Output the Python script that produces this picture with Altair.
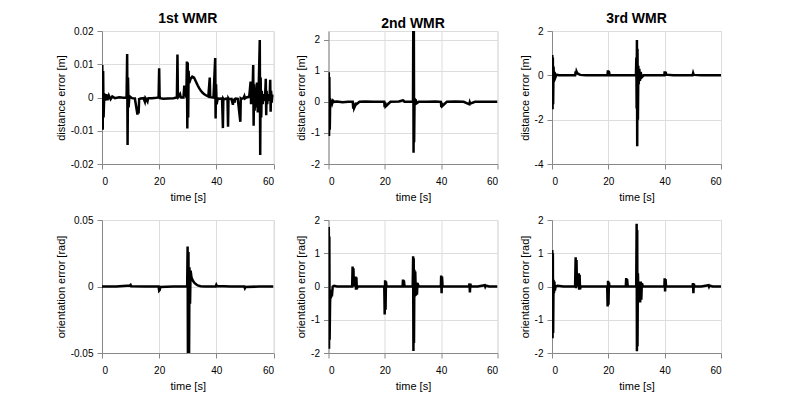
import altair as alt
import pandas as pd

# ---------------- data ----------------
# 1st WMR, distance error [m]
p1_t = [0.0, 0.1, 0.25, 0.4, 0.55, 0.8, 1.1, 1.5, 1.9, 2.4, 3.0, 3.6, 4.5, 6.0, 7.5, 8.6,
        8.8, 8.95, 9.1, 9.3, 9.6, 10.5, 11.5,
        12.4, 12.6, 12.8, 13.0, 13.5, 14.5,
        15.0, 15.2, 15.5, 15.9, 16.1, 16.4, 17.5, 19.0, 19.8,
        20.0, 20.15, 20.3, 21.5, 23.0, 25.0, 26.2,
        26.4, 26.55, 26.7, 27.3, 27.5, 27.7, 28.5,
        28.8, 28.95, 29.1, 29.5,
        29.7, 29.85, 30.0, 30.15, 30.3, 30.5, 31.0, 31.6, 32.2, 33.0, 33.5, 34.0, 34.6, 35.2, 35.8, 36.5, 37.2,
        37.7, 37.85, 38.0, 39.0,
        39.6, 39.75, 39.9, 40.1, 40.5, 41.2, 42.0,
        42.3, 42.45, 42.6, 43.5, 43.9,
        44.1, 44.25, 44.4, 45.3, 45.8, 45.95, 46.4, 46.55, 46.7, 47.5,
        48.4, 48.55, 48.7, 49.5, 49.8, 50.0, 50.5, 51.5,
        52.0, 52.15, 52.35, 52.6, 52.9, 53.05, 53.2, 53.4, 53.6, 53.9, 54.2, 54.5, 54.8,
        55.2, 55.35, 55.5, 55.7, 55.9, 56.2, 56.6, 57.0,
        57.3, 57.45, 57.6, 57.8, 58.2, 58.6,
        58.85, 59.0, 59.15, 59.4, 59.7, 60.0]
p1_e = [0.0, 0.0098, -0.0097, 0.008, -0.006, 0.0012, -0.0009, 0.0010, -0.0008, 0.0006, -0.0005, 0.0003, -0.0002, 0.0001, -0.0001, 0.0,
        0.0131, -0.0143, 0.006, -0.003, 0.0004, -0.0002, -0.0003,
        -0.0051, -0.004, -0.0048, -0.0005, -0.0003, -0.0002,
        -0.0013, -0.0002, -0.0006, -0.0012, -0.0003, -0.0002, -0.0002, -0.0001, 0.0,
        0.0088, 0.0005, -0.0002, -0.0004, -0.0003, -0.0002, 0.0,
        0.0129, 0.001, 0.0002, 0.0010, 0.0002, 0.0, 0.0,
        0.0036, 0.0015, 0.0030, 0.0,
        0.0108, -0.0093, 0.0105, -0.006, 0.008, 0.0043, 0.0056, 0.0063, 0.006, 0.0045, 0.0036, 0.0028, 0.002, 0.0014, 0.001, 0.0006, 0.0003,
        0.006, 0.0003, 0.0001, 0.0,
        0.0119, -0.0063, 0.004, -0.002, -0.0003, -0.0004, -0.0003,
        -0.0092, -0.0004, -0.0006, -0.0003, -0.0004,
        -0.0088, -0.0003, -0.0005, -0.0004, -0.0022, -0.0004, -0.0015, -0.0004, -0.0003, -0.0004,
        -0.0073, -0.0003, -0.0004, -0.0002, 0.0004, -0.0003, 0.0, 0.0002,
        0.0048, -0.002, 0.004, -0.001, 0.0098, -0.0085, 0.004, -0.004, 0.003, -0.003, 0.0045, -0.0045, 0.002,
        0.0173, -0.0173, 0.006, -0.006, 0.002, -0.002, 0.001, -0.001,
        0.0056, -0.0053, 0.002, -0.002, 0.001, -0.001,
        0.0053, -0.0043, 0.002, -0.0015, 0.0008, 0.0]

# 2nd WMR, distance error [m]
p2_t = [0.0, 0.1, 0.2, 0.3, 0.45, 0.6, 0.8, 1.0, 1.3, 1.6, 2.0, 3.0, 5.0, 7.0, 8.6,
        8.8, 8.95, 9.1, 9.6, 9.75, 9.9, 11.0, 13.0, 16.0, 19.8,
        19.95, 20.1, 20.25, 22.0, 25.0, 26.4, 26.6, 27.0, 29.0, 30.0,
        30.1, 30.2, 30.3, 30.4, 30.55, 30.7, 30.9, 31.2, 32.0, 35.0, 38.0, 39.9,
        40.05, 40.2, 40.35, 42.0, 45.0, 48.0, 50.0, 50.15, 50.3, 52.0, 55.0, 60.0]
p2_e = [0.0, 0.95, -1.1, 0.8, -0.9, 0.1, -0.08, 0.06, -0.05, 0.04, 0.0, 0.01, -0.01, 0.0, 0.0,
        -0.22, -0.05, -0.2, -0.1, -0.03, -0.08, 0.0, 0.01, 0.0, 0.0,
        -0.17, -0.02, -0.15, 0.0, 0.01, 0.05, 0.04, 0.0, 0.0, 0.0,
        2.6, -1.64, 2.4, -1.3, 0.12, -0.1, 0.08, -0.05, 0.0, 0.0, 0.01, 0.0,
        -0.17, -0.03, -0.14, 0.0, 0.01, 0.0, -0.08, -0.02, -0.06, 0.0, 0.0, 0.0]

# 3rd WMR, distance error [m]
p3_t = [0.0, 0.1, 0.2, 0.3, 0.4, 0.55, 0.7, 0.9, 1.2, 1.6, 2.5, 5.0, 8.2,
        8.4, 8.55, 8.7, 9.0, 9.3, 10.0, 12.0, 15.0, 19.7,
        19.85, 20.0, 20.15, 20.5, 23.0, 26.0, 29.8,
        29.95, 30.05, 30.15, 30.25, 30.35, 30.5, 30.65, 30.8, 31.0, 31.2, 31.5, 31.8, 32.5, 35.0, 38.0, 39.9,
        40.0, 40.15, 40.3, 40.6, 43.0, 46.0, 49.9, 50.1, 50.25, 50.5, 53.0, 56.0, 60.0]
p3_e = [0.0, 0.92, -1.53, 0.8, -1.3, 0.4, -0.3, 0.15, -0.1, 0.03, 0.0, 0.0, 0.0,
        0.18, 0.05, 0.17, 0.08, 0.07, 0.02, 0.0, 0.0, 0.0,
        0.22, 0.08, 0.2, 0.0, 0.0, 0.0, 0.0,
        0.8, -1.5, 1.59, -3.2, 1.2, -2.0, 0.43, -0.4, 0.3, -0.25, 0.15, -0.1, 0.0, 0.0, 0.0, 0.0,
        0.18, 0.06, 0.16, 0.03, 0.0, 0.0, 0.0, 0.1, 0.04, 0.02, 0.0, 0.0, 0.0]

# 1st WMR, orientation error [rad]
p4_t = [0.0, 5.0, 9.8, 10.0, 10.2, 15.0, 19.8, 20.0, 20.2, 20.4, 25.0,
        29.8, 29.95, 30.1, 30.25, 30.4, 30.6, 30.8, 31.0, 31.3, 31.7, 32.2, 32.8, 33.5, 34.5, 36.0,
        39.8, 40.0, 40.2, 45.0, 49.8, 50.0, 50.2, 55.0, 60.0]
p4_e = [0.0, 0.0, 0.0008, 0.0012, 0.0002, 0.0, 0.0, -0.003, -0.0025, -0.0003, 0.0,
        0.0, 0.030, -0.08, 0.026, -0.08, 0.0145, -0.013, 0.012, 0.007, 0.0048, 0.003, 0.0018, 0.0008, 0.0002, 0.0,
        0.0, 0.0012, 0.0003, 0.0, 0.0, -0.0012, -0.0004, 0.0, 0.0]

# 2nd WMR, orientation error [rad]
p5_t = [0.0, 0.1, 0.2, 0.3, 0.4, 0.55, 0.7, 0.85, 1.0, 1.2, 1.5, 2.0, 3.0, 5.0, 8.4,
        8.55, 8.7, 8.85, 9.0, 9.6, 9.75, 9.9, 10.05, 10.3, 11.0, 14.0, 17.0, 19.8,
        19.95, 20.1, 20.25, 20.4, 20.6, 23.0, 26.3,
        26.45, 26.6, 26.75, 27.0, 29.9,
        30.05, 30.15, 30.25, 30.35, 30.5, 30.65, 30.8, 31.0, 31.2, 31.4, 31.6, 32.0, 34.0, 37.0, 39.9,
        40.0, 40.15, 40.3, 40.5, 43.0, 46.0, 49.9, 50.05, 50.2, 50.35, 50.6, 53.0, 55.5, 55.65, 55.8, 57.0, 60.0]
p5_e = [0.0, 1.79, -1.87, 1.5, -1.6, -0.5, -0.2, -0.35, -0.1, -0.3, 0.0, 0.02, 0.0, 0.0, 0.0,
        0.6, 0.02, 0.55, 0.0, 0.3, -0.1, 0.28, -0.08, 0.0, 0.0, 0.0, 0.0, 0.0,
        -0.84, 0.19, -0.7, 0.15, 0.0, 0.0, 0.0,
        0.21, 0.02, 0.18, 0.0, 0.0,
        0.91, -1.94, 0.85, -1.7, 0.5, -0.3, 0.45, -0.28, 0.12, -0.25, 0.1, 0.0, 0.0, 0.0, 0.0,
        0.33, -0.2, 0.3, 0.0, 0.0, 0.0, 0.0, 0.09, -0.18, 0.08, 0.0, 0.0, 0.04, 0.0, 0.03, 0.0, 0.0]

# 3rd WMR, orientation error [rad]
p6_t = [0.0, 0.1, 0.2, 0.3, 0.4, 0.55, 0.7, 0.85, 1.0, 1.3, 2.0, 4.0, 8.2,
        8.4, 8.55, 8.7, 8.85, 9.5, 9.65, 9.8, 9.95, 10.2, 11.0, 15.0, 19.6,
        19.75, 19.9, 20.05, 20.2, 20.4, 23.0, 26.2,
        26.35, 26.5, 26.65, 26.9, 29.9,
        30.05, 30.15, 30.25, 30.35, 30.5, 30.7, 31.0, 31.3, 31.5, 31.7, 31.9, 32.3, 34.0, 37.0, 39.9,
        40.0, 40.15, 40.3, 40.5, 43.0, 46.0, 49.9, 50.05, 50.2, 50.35, 50.6, 53.0, 55.6, 55.75, 55.9, 57.0, 60.0]
p6_e = [0.0, 1.1, -1.56, 1.0, -1.4, 0.2, -0.2, 0.15, -0.12, 0.0, 0.02, 0.0, 0.0,
        0.88, -0.05, 0.8, 0.0, 0.4, -0.1, 0.35, -0.08, 0.0, 0.0, 0.0, 0.0,
        -0.6, 0.17, -0.55, 0.12, 0.0, 0.0, 0.0,
        0.25, 0.02, 0.22, 0.0, 0.0,
        1.89, -1.95, 1.7, -1.8, 0.4, -0.3, 0.15, -0.48, 0.15, -0.4, 0.1, 0.0, 0.0, 0.0, 0.0,
        0.25, -0.15, 0.22, 0.0, 0.0, 0.0, 0.0, 0.1, -0.2, 0.08, 0.0, 0.0, 0.04, 0.0, 0.03, 0.0, 0.0]

titles = ["1st WMR", "2nd WMR", "3rd WMR"]
x_ticks = [0, 20, 40, 60]

FONT = "Liberation Sans"
TXT = "#262626"


def panel(t, e, ydom, yvals, ytitle, width, title=None):
    df = pd.DataFrame({"t": t, "e": e})
    props = dict(width=width, height=133)
    if title:
        props["title"] = alt.TitleParams(text=title, fontSize=14, fontWeight="bold",
                                         font=FONT, color="black", offset=0)
    return alt.Chart(df).mark_line(color="black", strokeWidth=2.5, clip=True).encode(
        x=alt.X("t:Q", scale=alt.Scale(domain=[0, 60], nice=False, zero=False),
                axis=alt.Axis(values=x_ticks, title="time [s]", titleFontWeight="normal",
                              labelPadding=7, titlePadding=5)),
        y=alt.Y("e:Q", scale=alt.Scale(domain=ydom, nice=False, zero=False),
                axis=alt.Axis(values=yvals, title=ytitle, titleFontWeight="normal",
                              labelPadding=4, titlePadding=4,
                              labelExpr="datum.value + ''")),
    ).properties(**props)


charts = [
    panel(p1_t, p1_e, [-0.02, 0.02], [-0.02, -0.01, 0, 0.01, 0.02], "distance error [m]", 171.5, titles[0]),
    panel(p2_t, p2_e, [-2, 2.28], [-2, -1, 0, 1, 2], "distance error [m]", 169, titles[1]),
    panel(p3_t, p3_e, [-4, 2], [-4, -2, 0, 2], "distance error [m]", 169, titles[2]),
    panel(p4_t, p4_e, [-0.05, 0.05], [-0.05, 0, 0.05], "orientation error [rad]", 171.5),
    panel(p5_t, p5_e, [-2, 2], [-2, -1, 0, 1, 2], "orientation error [rad]", 169),
    panel(p6_t, p6_e, [-2, 2], [-2, -1, 0, 1, 2], "orientation error [rad]", 169),
]

chart = alt.concat(
    *charts, columns=3, spacing={"row": 56, "column": 54.5}, bounds="flush", align="each"
).properties(
    padding={"left": 46, "top": 3, "right": 10, "bottom": 10}
).configure_view(
    stroke=TXT, strokeWidth=1
).configure_axis(
    domain=False, ticks=False, grid=True, gridColor="#e1e1e1", gridWidth=1,
    labelFont=FONT, labelFontSize=12, labelColor=TXT,
    titleFont=FONT, titleFontSize=13, titleFontWeight="normal", titleColor=TXT,
).configure(background="white")

chart.save("out.html", embed_options={"renderer": "svg", "actions": False})
